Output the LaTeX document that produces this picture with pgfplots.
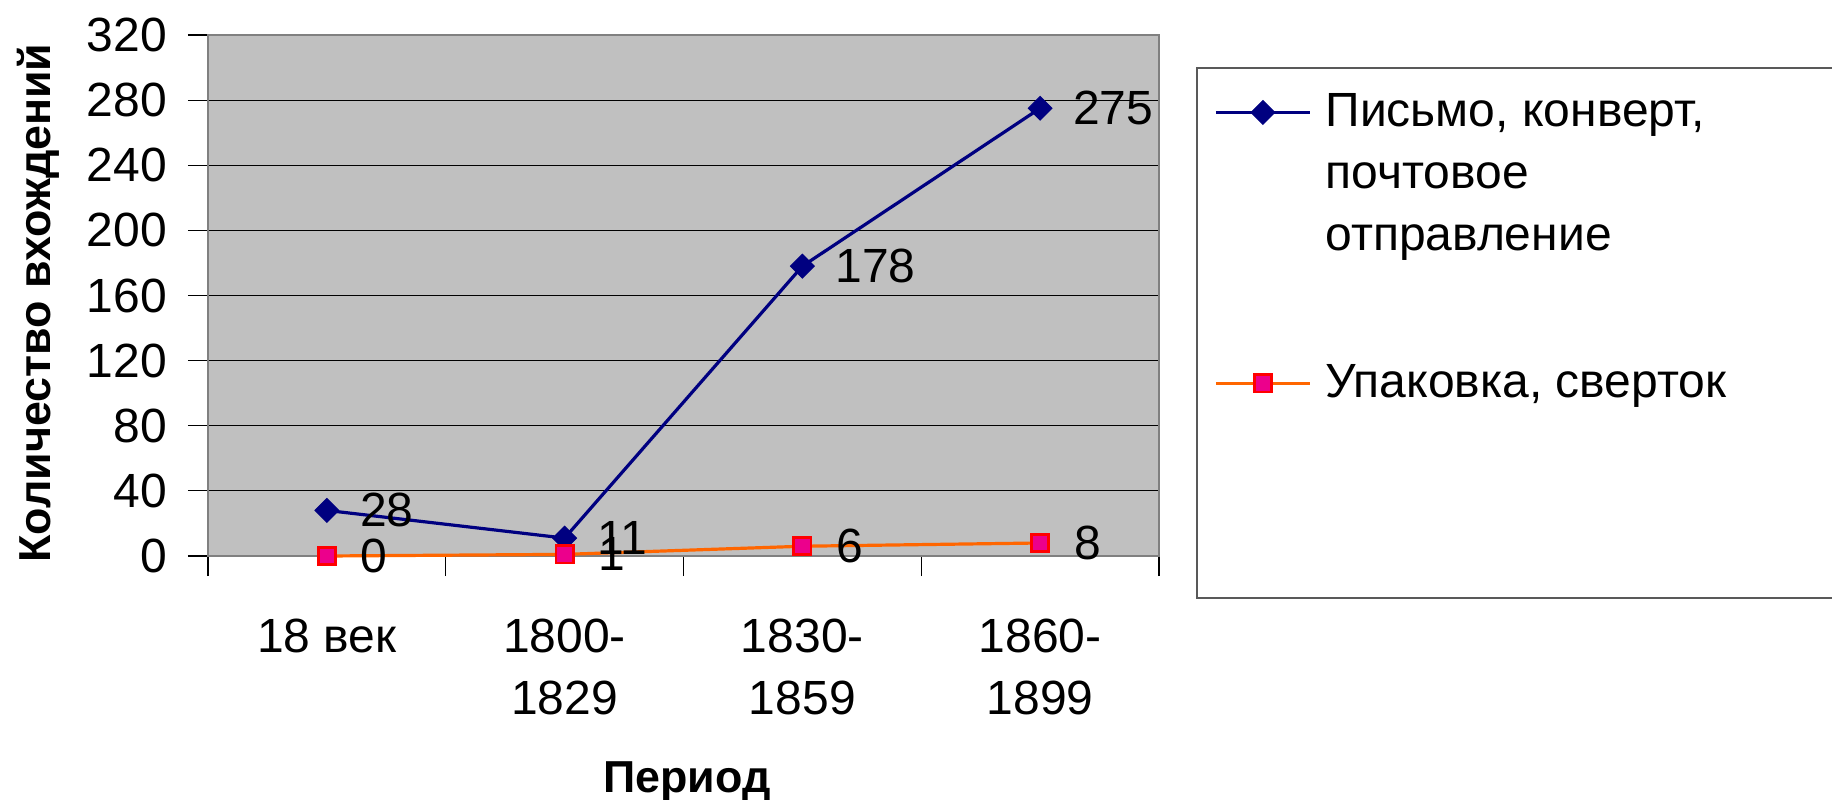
\documentclass[border=0pt]{standalone}
\usepackage{fontspec}
\setmainfont{Liberation Sans}
\usepackage{pgfplots}
\pgfplotsset{compat=1.18}
\definecolor{navyline}{RGB}{0,0,128}
\definecolor{orangeline}{RGB}{255,102,0}
\definecolor{plotbg}{RGB}{192,192,192}
\begin{document}
\begin{tikzpicture}
\path[use as bounding box] (-104pt,-121.5pt) rectangle (812pt,278pt);
\begin{axis}[
  scale only axis, width=475.5pt, height=260.5pt,
  xmin=-0.5, xmax=3.5, ymin=0, ymax=320,
  xtick={0,1,2,3},
  xticklabels={18 век,{1800-\\1829},{1830-\\1859},{1860-\\1899}},
  minor xtick={-0.5,0.5,1.5,2.5,3.5},
  ytick={0,40,...,320},
  xtick pos=bottom, ytick pos=left, tick align=outside,
  major tick length=10pt, minor tick length=10pt,
  major x tick style={draw=none},
  every tick/.style={black, line width=0.6pt},
  ymajorgrids, grid style={black, line width=0.5pt},
  axis background/.style={fill=plotbg},
  axis line style={draw=gray, line width=1pt},
  /pgf/number format/assume math mode=true,
  tick label style={font=\fontsize{24}{31}\selectfont},
  x tick label style={align=center, yshift=-18pt},
  y tick label style={xshift=-7pt},
  xlabel={Период}, ylabel={Количество вхождений},
  label style={font=\bfseries\fontsize{22.4}{28}\selectfont},
  xlabel style={at={(axis description cs:0.5037,-0.453)}, anchor=base},
  ylabel style={at={(axis description cs:-0.1655,0.4856)}, anchor=base},
  clip=false,
  nodes near coords,
  every node near coord/.append style={anchor=west, xshift=13pt, text=black, font=\fontsize{24}{31}\selectfont},
  legend style={draw=none, fill=none, at={(axis description cs:1.0578,0.8964)}, anchor=north west,
    font=\fontsize{24}{31}\selectfont, cells={anchor=base west, inner sep=0pt},
    row sep=113.5pt, column sep=5pt, inner sep=0pt},
  legend image code/.code={\draw[mark repeat=2,mark phase=2,#1] plot coordinates {(0pt,7pt) (23.5pt,7pt) (47pt,7pt)};},
]
\addplot[navyline, line width=1.6pt, mark=square*, mark size=4.2pt,
  mark options={rotate=45, fill=navyline, draw=navyline, line width=0.5pt}]
  coordinates {(0,28) (1,11) (2,178) (3,275)};
\addlegendentry{\vtop{\hbox{Письмо, конверт,}\hbox{почтовое}\hbox{отправление}}}
\addplot[orangeline, line width=1.6pt, mark=square*, mark size=4.3pt,
  mark options={fill=magenta, draw=red, line width=1.4pt}]
  coordinates {(0,0) (1,1) (2,6) (3,8)};
\addlegendentry{Упаковка, сверток}
\end{axis}
\draw[gray!70!black, line width=1pt] (494.5pt,-21pt) rectangle (814pt,244pt);
\end{tikzpicture}
\end{document}
